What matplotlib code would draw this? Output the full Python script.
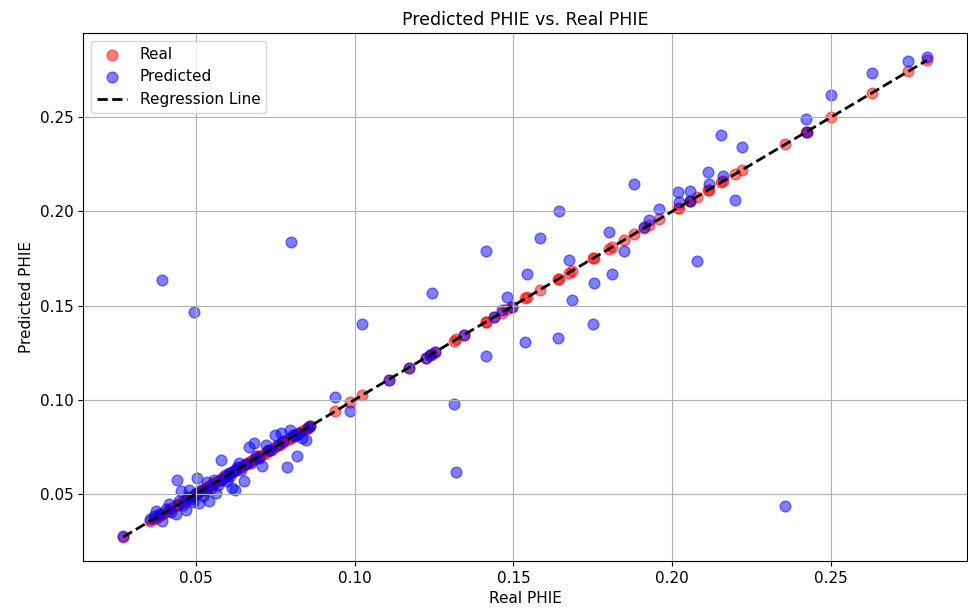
import matplotlib
matplotlib.use("Agg")
import matplotlib.pyplot as plt
import numpy as np

# (real, predicted) pairs
real_phie = [
    0.0270, 0.0356, 0.0367, 0.0372, 0.0382, 0.0393, 0.0405, 0.0414, 0.0422, 0.0435,
    0.0440, 0.0445, 0.0451, 0.0458, 0.0467, 0.0472, 0.0477, 0.0485, 0.0490, 0.0498,
    0.0503, 0.0509, 0.0515, 0.0522, 0.0530, 0.0535, 0.0540, 0.0548, 0.0555, 0.0561,
    0.0568, 0.0577, 0.0582, 0.0590, 0.0596, 0.0603, 0.0608, 0.0614, 0.0620, 0.0624,
    0.0630, 0.0635, 0.0642, 0.0650, 0.0656, 0.0666, 0.0672, 0.0682, 0.0690, 0.0698,
    0.0708, 0.0719, 0.0727, 0.0735, 0.0750, 0.0758, 0.0766, 0.0775, 0.0787, 0.0797,
    0.0805, 0.0812, 0.0818, 0.0824, 0.0834, 0.0845, 0.0852, 0.0860,
    0.0392, 0.0493, 0.0798,
    0.0939, 0.0986, 0.1023, 0.1107, 0.1170, 0.1223, 0.1238, 0.1242, 0.1254, 0.1312,
    0.1320, 0.1343, 0.1412, 0.1414, 0.1438, 0.1463, 0.1480, 0.1495, 0.1538, 0.1544,
    0.1585, 0.1643, 0.1641, 0.1674, 0.1685, 0.1753, 0.1751, 0.1800, 0.1810, 0.1850,
    0.1880, 0.1911, 0.1926, 0.1958, 0.2019, 0.2021, 0.2056, 0.2058, 0.2079, 0.2113,
    0.2115, 0.2155, 0.2160, 0.2197, 0.2220, 0.2357, 0.2423, 0.2425, 0.2500, 0.2630,
    0.2745, 0.2803,
]
predicted_phie = [
    0.0275, 0.0367, 0.0380, 0.0407, 0.0390, 0.0355, 0.0420, 0.0443, 0.0405, 0.0390,
    0.0571, 0.0460, 0.0513, 0.0440, 0.0416, 0.0480, 0.0522, 0.0470, 0.0455, 0.0505,
    0.0584, 0.0452, 0.0520, 0.0490, 0.0522, 0.0560, 0.0460, 0.0530, 0.0575, 0.0505,
    0.0545, 0.0681, 0.0575, 0.0600, 0.0565, 0.0611, 0.0593, 0.0531, 0.0620, 0.0522,
    0.0640, 0.0664, 0.0625, 0.0566, 0.0660, 0.0750, 0.0665, 0.0770, 0.0700, 0.0690,
    0.0645, 0.0760, 0.0735, 0.0730, 0.0814, 0.0760, 0.0822, 0.0780, 0.0644, 0.0840,
    0.0810, 0.0805, 0.0699, 0.0822, 0.0796, 0.0787, 0.0850, 0.0858,
    0.1635, 0.1465, 0.1836,
    0.1016, 0.0937, 0.1401, 0.1107, 0.1170, 0.1223, 0.1238, 0.1567, 0.1254, 0.0978,
    0.0614, 0.1343, 0.1788, 0.1234, 0.1438, 0.1476, 0.1546, 0.1495, 0.1305, 0.1670,
    0.1861, 0.2005, 0.1326, 0.1744, 0.1529, 0.1622, 0.1401, 0.1890, 0.1670, 0.1789,
    0.2147, 0.1917, 0.1956, 0.2014, 0.2102, 0.2053, 0.2056, 0.2111, 0.1735, 0.2212,
    0.2147, 0.2406, 0.2187, 0.2062, 0.2341, 0.0434, 0.2493, 0.2420, 0.2620, 0.2738,
    0.2800, 0.2821,
]


def main():
    real = np.array(real_phie)
    pred = np.array(predicted_phie)

    fig = plt.figure(figsize=(9.68, 6.13), dpi=100)
    ax = fig.add_axes([83 / 968, 1 - 561 / 613, 884 / 968, 528 / 613])

    ax.scatter(real, real, color="red", alpha=0.5, s=60, label="Real")
    ax.scatter(real, pred, color="blue", alpha=0.5, s=60, label="Predicted")
    ax.plot([real.min(), real.max()], [real.min(), real.max()],
            "k--", lw=2, label="Regression Line")

    ax.set_title("Predicted PHIE vs. Real PHIE", fontsize=12.5)
    ax.set_xlabel("Real PHIE", fontsize=11)
    ax.set_ylabel("Predicted PHIE", fontsize=11)
    ax.tick_params(labelsize=11)
    ax.legend(loc="upper left", fontsize=11)
    ax.grid(True)

    fig.savefig("out.png", dpi=100)


if __name__ == "__main__":
    main()
